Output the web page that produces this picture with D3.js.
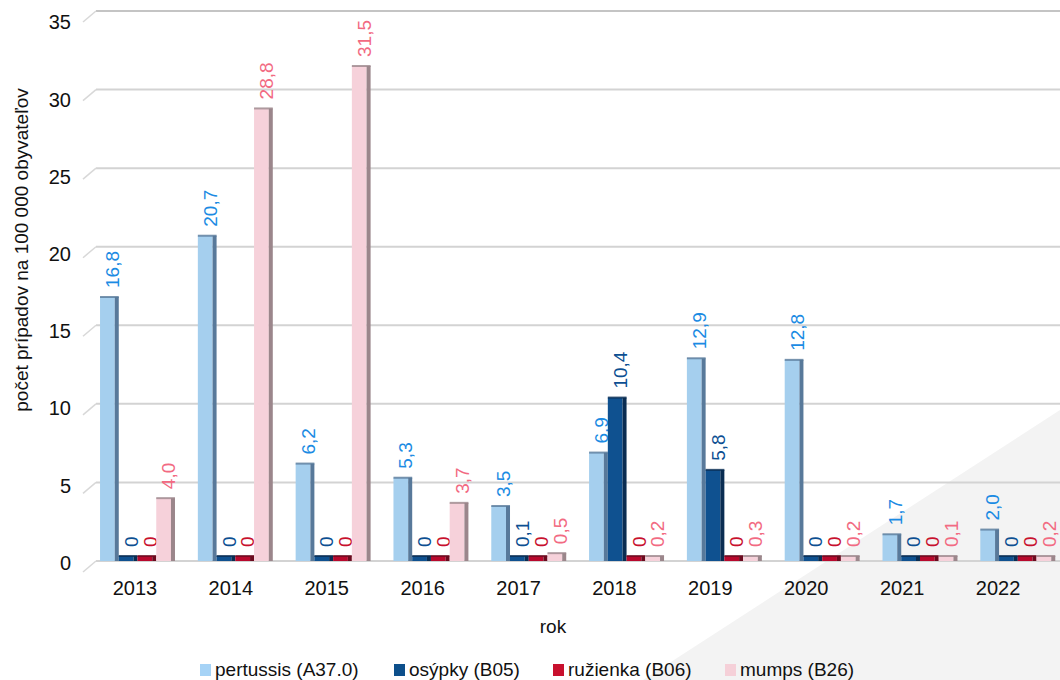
<!DOCTYPE html>
<html>
<head>
<meta charset="utf-8">
<script src="https://cdn.jsdelivr.net/npm/d3@7"></script>
<style>
  body { margin: 0; background: #fff; }
  svg { display: block; font-family: "Liberation Sans", Arial, sans-serif; }
</style>
</head>
<body>
<div id="chart"></div>
<script>
const years = ['2013', '2014', '2015', '2016', '2017', '2018', '2019', '2020', '2021', '2022'];
const pertussis = [16.8, 20.7, 6.2, 5.3, 3.5, 6.9, 12.9, 12.8, 1.7, 2.0];
const osypky = [0, 0, 0, 0, 0.1, 10.4, 5.8, 0, 0, 0];
const ruzienka = [0, 0, 0, 0, 0, 0, 0, 0, 0, 0];
const mumps = [4.0, 28.8, 31.5, 3.7, 0.5, 0.2, 0.3, 0.2, 0.1, 0.2];
const seriesNames = ['pertussis (A37.0)', 'osýpky (B05)', 'ružienka (B06)', 'mumps (B26)'];
const yTicks = [0, 5, 10, 15, 20, 25, 30, 35];

const series = [
  { name: seriesNames[0], values: pertussis, front: '#a5cfee', side: '#58799a', label: '#1b8be3', key: '#a6d3f6' },
  { name: seriesNames[1], values: osypky, front: '#0f5190', side: '#0a2d52', label: '#0c4f92', key: '#0d4f8b' },
  { name: seriesNames[2], values: ruzienka, front: '#b8092d', side: '#6b0b1f', label: '#c8102e', key: '#c8102e' },
  { name: seriesNames[3], values: mumps, front: '#f6d1da', side: '#9b868b', label: '#f26a82', key: '#f5d0d8' }
];

const W = 1060, H = 680;
const svg = d3.select('#chart').append('svg')
  .attr('width', W)
  .attr('height', H);

// light grey corner in the background
svg.append('polygon')
  .attr('points', '1060,410 643,680 1060,680')
  .style('fill', '#f3f3f3');

const y = d3.scaleLinear().domain([0, 35]).range([561, 11]);
// category labels on the front edge, bars a bit wider apart (3D perspective)
const x = d3.scaleBand().domain(years).range([87, 1046]).padding(0);
const xBar = d3.scaleBand().domain(years).range([88.6, 1066.7]).padding(0);
const x1 = d3.scaleBand().domain(d3.range(4)).range([0, xBar.bandwidth()]).paddingInner(0).paddingOuter(0.61);

const fmt = v => v === 0 ? '0' : d3.format('.1f')(v).replace('.', ',');

// gridlines on the back wall + slanted connectors on the side wall
const grid = svg.append('g');
grid.selectAll('line.h')
  .data(yTicks)
  .enter().append('line')
  .attr('class', 'h')
  .attr('x1', 96).attr('x2', W)
  .attr('y1', d => y(d)).attr('y2', d => y(d))
  .style('stroke', d => d === 35 ? '#c4c4c4' : '#d3d3d3')
  .style('stroke-width', 2);
grid.selectAll('line.s')
  .data(yTicks)
  .enter().append('line')
  .attr('class', 's')
  .attr('x1', 83).attr('x2', 96)
  .attr('y1', d => y(d) + 11).attr('y2', d => y(d))
  .style('stroke', '#d8d8d8')
  .style('stroke-width', 1.5);

// y tick labels sit on the front edge, a bit below the back gridlines
const yFront = y.copy().range([563, 22.5]);
const yAxis = svg.append('g')
  .attr('transform', 'translate(71,0)')
  .call(d3.axisLeft(yFront).tickValues(yTicks).tickSize(0).tickPadding(0));
yAxis.select('.domain').remove();
yAxis.selectAll('text')
  .style('font-size', '20px')
  .style('font-family', '"Liberation Sans", Arial, sans-serif')
  .style('fill', '#111');

// bars
const groups = svg.selectAll('g.year')
  .data(years)
  .enter().append('g')
  .attr('class', 'year')
  .attr('transform', d => `translate(${xBar(d)},0)`);

const sideW = 4;
series.forEach((s, i) => {
  const bw = x1.bandwidth();
  const top = v => Math.min(y(v), y(0) - 5);

  groups.append('rect')
    .attr('x', x1(i))
    .attr('y', (d, j) => top(s.values[j]))
    .attr('width', bw - sideW)
    .attr('height', (d, j) => y(0) - top(s.values[j]))
    .style('fill', s.front);

  groups.append('rect')
    .attr('x', x1(i) + bw - sideW)
    .attr('y', (d, j) => top(s.values[j]))
    .attr('width', sideW)
    .attr('height', (d, j) => y(0) - top(s.values[j]))
    .style('fill', s.side);

  groups.append('rect')
    .attr('x', x1(i))
    .attr('y', (d, j) => top(s.values[j]) - 1)
    .attr('width', bw)
    .attr('height', 2)
    .style('fill', s.side)
    .style('opacity', 0.8);

  groups.append('text')
    .attr('transform', (d, j) => `translate(${x1(i) + bw / 2 + 3},${top(s.values[j]) - 9}) rotate(-90)`)
    .attr('dy', '0.35em')
    .attr('text-anchor', 'start')
    .style('font-size', '19px')
    .style('fill', s.label)
    .text((d, j) => fmt(s.values[j]));
});

// x axis labels
const xAxis = svg.append('g')
  .attr('transform', 'translate(0,578)')
  .call(d3.axisBottom(x).tickSize(0).tickPadding(3));
xAxis.select('.domain').remove();
xAxis.selectAll('text')
  .style('font-size', '20px')
  .style('font-family', '"Liberation Sans", Arial, sans-serif')
  .style('fill', '#111');

// axis titles
svg.append('text')
  .attr('x', 553)
  .attr('y', 633)
  .attr('text-anchor', 'middle')
  .style('font-size', '19px')
  .style('fill', '#111')
  .text('rok');

svg.append('text')
  .attr('transform', 'translate(21,250) rotate(-90)')
  .attr('dy', '0.35em')
  .attr('text-anchor', 'middle')
  .style('font-size', '19px')
  .style('fill', '#111')
  .text('počet prípadov na 100 000 obyvateľov');

// legend
const legendX = [200, 394, 553, 725];
const legend = svg.selectAll('g.legend')
  .data(series)
  .enter().append('g')
  .attr('class', 'legend')
  .attr('transform', (d, i) => `translate(${legendX[i]},0)`);
legend.append('rect')
  .attr('x', 0).attr('y', 664)
  .attr('width', 11).attr('height', 12)
  .style('fill', d => d.key);
legend.append('text')
  .attr('x', 15).attr('y', 676)
  .style('font-size', '19px')
  .style('fill', '#111')
  .text(d => d.name);
</script>
</body>
</html>
